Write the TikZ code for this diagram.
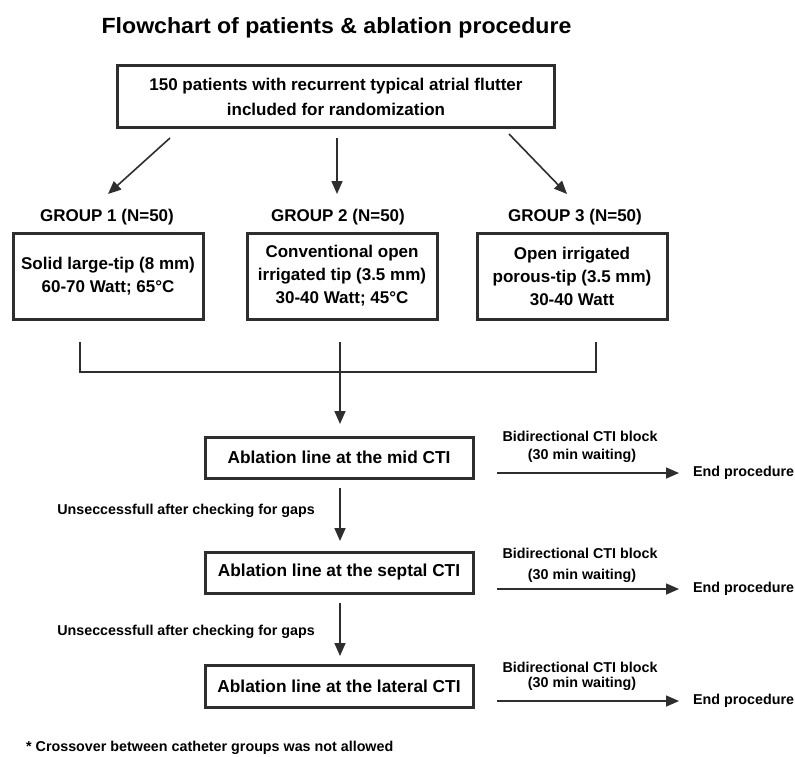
\documentclass[tikz,border=0pt]{standalone}
\usepackage{fontspec}
\setmainfont{Liberation Sans}
\newfontfamily\titlef[FakeStretch=1.05]{Liberation Sans}
\usetikzlibrary{arrows.meta}
\begin{document}
\begin{tikzpicture}[x=1pt,y=-1pt,
  ink/.style={draw=black!82},
  box/.style={ink, line width=3pt, inner sep=0pt, align=center,
    font=\bfseries\fontsize{17}{23}\selectfont},
  arr/.style={ink, line width=1.6pt, -{Triangle[length=13pt,width=11pt]}},
  plain/.style={ink, line width=1.6pt},
  grp/.style={font=\bfseries\fontsize{17}{20}\selectfont},
  small/.style={font=\bfseries\fontsize{14.3}{16}\selectfont, inner sep=0pt},
  ablbox/.style={box, minimum width=268pt, font=\bfseries\fontsize{17.3}{20}\selectfont}]
\useasboundingbox (0,0) rectangle (795,756);
\fill[white] (0,0) rectangle (795,756);

\node[font=\titlef\bfseries\fontsize{22}{24}\selectfont, anchor=base, inner sep=0pt] (title) at (336.5,33) {Flowchart of patients \& ablation procedure};

\node[box, minimum width=437pt, minimum height=62pt, font=\bfseries\fontsize{17}{25}\selectfont] (top) at (336,96.5)
  {150 patients with recurrent typical atrial flutter\\included for randomization};

\node[grp] (l1) at (107,217) {GROUP 1 (N=50)};
\node[grp] (l2) at (338,217) {GROUP 2 (N=50)};
\node[grp] (l3) at (575,217) {GROUP 3 (N=50)};

\node[box, minimum width=190pt, minimum height=86pt] (g1) at (108,276)
  {Solid large-tip (8 mm)\\60-70 Watt; 65\textdegree C};
\node[box, minimum width=190pt, minimum height=86pt] (g2) at (342,276)
  {Conventional open\\irrigated tip (3.5 mm)\\30-40 Watt; 45\textdegree C};
\node[box, minimum width=190pt, minimum height=86pt] (g3) at (572,276)
  {Open irrigated\\porous-tip (3.5 mm)\\30-40 Watt};

\coordinate (a1s) at (170,138); \coordinate (a1e) at (108,194);
\coordinate (a2s) at (337,138); \coordinate (a2e) at (337,194);
\coordinate (a3s) at (509,134); \coordinate (a3e) at (567,194);
\draw[arr] (a1s) -- (a1e);
\draw[arr] (a2s) -- (a2e);
\draw[arr] (a3s) -- (a3e);

\coordinate (b1) at (80,342); \coordinate (b2) at (340,342); \coordinate (b3) at (596,342);
\coordinate (c1) at (80,372); \coordinate (c2) at (340,372); \coordinate (c3) at (596,372);
\draw[plain] (b1) -- (c1) -- (c3) -- (b3);
\coordinate (c2e) at (340,424);
\draw[arr] (b2) -- (c2e);

\node[ablbox, minimum height=41pt] (mid) at (339,457.5) {Ablation line at the mid CTI};
\node[ablbox, minimum height=41pt] (sep) at (339,572.5) {Ablation line at the septal CTI};
\node[ablbox, minimum height=42pt] (lat) at (339,686) {Ablation line at the lateral CTI};

\coordinate (m1) at (340,488); \coordinate (m2) at (340,541);
\coordinate (s1) at (340,603); \coordinate (s2) at (340,656);
\draw[arr] (m1) -- (m2);
\draw[arr] (s1) -- (s2);
\node[small, anchor=east] (u1) at (315,511) {Unseccessfull after checking for gaps};
\node[small, anchor=east] (u2) at (315,632) {Unseccessfull after checking for gaps};

\foreach \n/\ya/\yb/\yc in {1/436/456/473, 2/553/576/589, 3/667/684/701}{
  \node[small] (bd\n) at (580,\ya) {Bidirectional CTI block};
  \node[small] (wt\n) at (582,\yb) {(30 min waiting)};
  \node[small, anchor=west] (ep\n) at (693,\yc) {End procedure};
  \coordinate (rs\n) at (497,\yc);
  \coordinate (re\n) at (679,\yc);
  \draw[arr] (rs\n) -- (re\n);
}

\node[small, anchor=west] (foot) at (26,748)
  {* Crossover between catheter groups was not allowed};
\end{tikzpicture}
\end{document}
